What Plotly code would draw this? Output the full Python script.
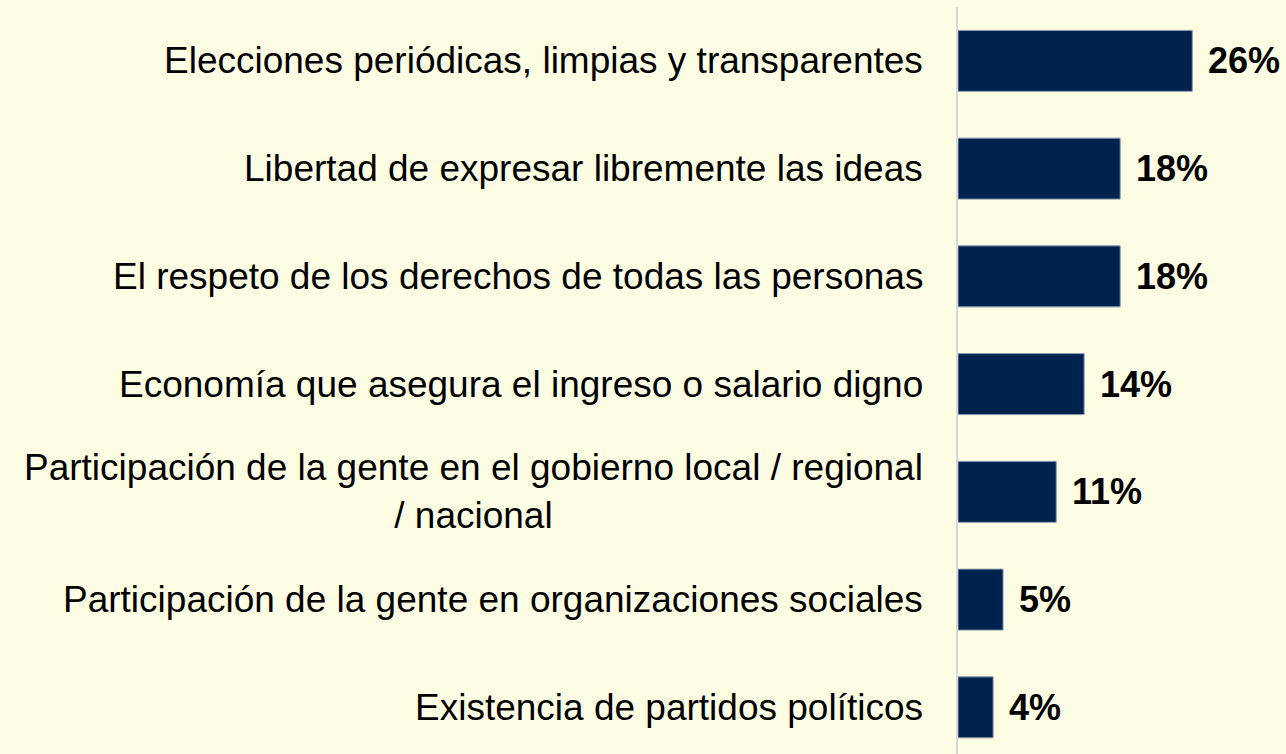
import plotly.graph_objects as go

categories = [
    'Elecciones periódicas, limpias y transparentes',
    'Libertad de expresar libremente las ideas',
    'El respeto de los derechos de todas las personas',
    'Economía que asegura el ingreso o salario digno',
    'Participación de la gente en el gobierno local / regional<br>/ nacional',
    'Participación de la gente en organizaciones sociales',
    'Existencia de partidos políticos',
]
values = [26, 18, 18, 14, 10.9, 5, 3.9]
value_labels = ['26%', '18%', '18%', '14%', '11%', '5%', '4%']

BG = '#FDFDE3'
NAVY = '#00224F'
FONT = 'Liberation Sans, Arial, sans-serif'

fig = go.Figure()
fig.add_trace(go.Bar(
    x=values, y=list(range(len(categories))), orientation='h',
    marker=dict(color=NAVY, line=dict(color='#8A9BB0', width=1)),
    hoverinfo='skip', showlegend=False
))

# category labels (centred multi-line, right of them sits the axis)
for i, cat in enumerate(categories):
    fig.add_annotation(
        x=0, y=i, xref='x', yref='y', text=cat, showarrow=False,
        xanchor='right', yanchor='middle', align='center', xshift=-33,
        font=dict(family=FONT, size=37, color='#000000')
    )

# value labels
for i, (v, lab) in enumerate(zip(values, value_labels)):
    fig.add_annotation(
        x=v, y=i, xref='x', yref='y', text='<b>' + lab + '</b>', showarrow=False,
        xanchor='left', yanchor='middle', xshift=14,
        font=dict(family=FONT, size=36, color='#000000')
    )

n = len(categories)
fig.update_layout(
    width=1286, height=754,
    paper_bgcolor=BG, plot_bgcolor=BG,
    margin=dict(l=958, r=0, t=7, b=0),
    bargap=0.434,
    xaxis=dict(range=[0, 36.4], visible=False, fixedrange=True),
    yaxis=dict(range=[n - 0.5 - 0.067, -0.5], showticklabels=False, showgrid=False,
               zeroline=False, showline=True, linecolor='#D6D9DC', linewidth=2,
               ticks='', fixedrange=True),
)

# page has a default body margin; drop it so the figure sits at the corner
fig.write_html('out.html', config={'displayModeBar': False},
               post_script="document.body.style.margin='0';document.body.style.background='" + BG + "';")
